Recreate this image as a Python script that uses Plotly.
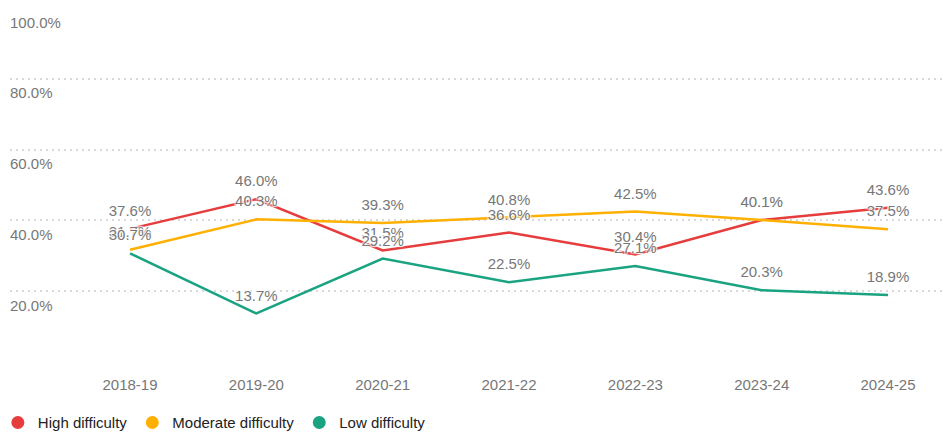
import plotly.graph_objects as go

years = ["2018-19", "2019-20", "2020-21", "2021-22", "2022-23", "2023-24", "2024-25"]
high = [37.6, 46.0, 31.5, 36.6, 30.4, 40.1, 43.6]
moderate = [31.7, 40.3, 39.3, 40.8, 42.5, 40.1, 37.5]
low = [30.7, 13.7, 29.2, 22.5, 27.1, 20.3, 18.9]
y_ticks = [0, 20, 40, 60, 80, 100]
y_labels = ["", "20.0%", "40.0%", "60.0%", "80.0%", "100.0%"]

series = [
    ("High difficulty", high, "#e63c3c"),
    ("Moderate difficulty", moderate, "#ffb000"),
    ("Low difficulty", low, "#1aa381"),
]

FONT = "Liberation Sans, Arial, sans-serif"
halo = ("1px 1px 1px rgba(255,255,255,0.85), -1px -1px 1px rgba(255,255,255,0.85), "
        "1px -1px 1px rgba(255,255,255,0.85), -1px 1px 1px rgba(255,255,255,0.85)")

fig = go.Figure()
for name, vals, col in series:
    fig.add_trace(go.Scatter(x=years, y=vals, mode="lines", name=name,
                             line=dict(color=col, width=2.5),
                             showlegend=False, hoverinfo="skip"))
for name, vals, col in series:
    fig.add_trace(go.Scatter(x=years, y=vals, mode="markers+text",
                             text=[f"{v:.1f}%" for v in vals],
                             textposition="top center",
                             textfont=dict(family=FONT, size=15, color="#777777", shadow=halo),
                             marker=dict(size=13, opacity=0),
                             showlegend=False, hoverinfo="skip"))
for name, vals, col in series:
    fig.add_trace(go.Scatter(x=[None], y=[None], mode="markers", name=name,
                             marker=dict(color=col, size=13, symbol="circle")))

for v, lab in zip(y_ticks, y_labels):
    if lab:
        fig.add_annotation(x=0, xref="paper", xanchor="left", xshift=-2, y=v, yref="y",
                           yanchor="middle", yshift=-14, text=lab, showarrow=False,
                           font=dict(family=FONT, size=15, color="#777777"))

fig.update_layout(
    width=943, height=435,
    margin=dict(l=10, r=0, t=8, b=73, autoexpand=False),
    paper_bgcolor="white", plot_bgcolor="white",
    font=dict(family=FONT),
    xaxis=dict(type="category", range=[-0.95, 6.435], showgrid=False, zeroline=False,
               showline=False, ticks="", ticklabelstandoff=12, automargin=False,
               tickfont=dict(family=FONT, size=15, color="#777777")),
    yaxis=dict(range=[0, 100], tickvals=y_ticks, showticklabels=False, zeroline=False,
               automargin=False,
               showgrid=True, gridcolor="#d9d9d9", gridwidth=2, griddash="2px,4px"),
    legend=dict(orientation="h", x=-0.013, xanchor="left", y=-0.125, yanchor="top",
                font=dict(family=FONT, size=15, color="#222222"),
                itemwidth=30, tracegroupgap=0),
    showlegend=True,
)

fig.write_html("out.html", config={"displayModeBar": False},
               post_script="document.body.style.margin='0';document.body.style.overflow='hidden';")
